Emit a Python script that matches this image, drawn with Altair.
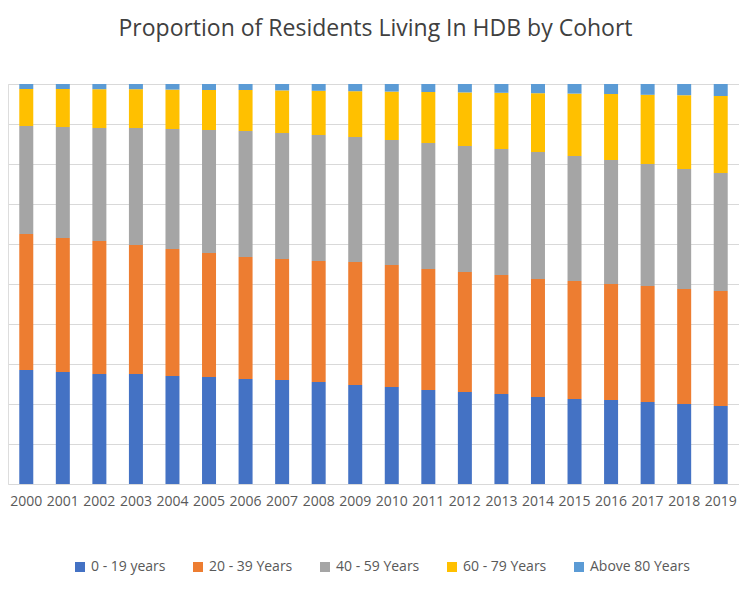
import altair as alt
import pandas as pd

years = [str(y) for y in range(2000, 2020)]
cohorts = ["0 - 19 years", "20 - 39 Years", "40 - 59 Years", "60 - 79 Years", "Above 80 Years"]
colors = ["#4472C4", "#ED7D31", "#A5A5A5", "#FFC000", "#5B9BD5"]
# cumulative tops (%)
c1 = [28.5, 28, 27.5, 27.5, 27, 26.75, 26.25, 26, 25.5, 24.75, 24.25, 23.5, 23, 22.5, 21.75, 21.25, 21, 20.5, 20, 19.5]
c2 = [62.5, 61.5, 60.75, 59.75, 58.75, 57.75, 56.75, 56.25, 55.75, 55.5, 54.75, 53.75, 53, 52.25, 51.25, 50.75, 50, 49.5, 48.75, 48.25]
c3 = [89.5, 89.25, 89, 89, 88.75, 88.5, 88.25, 87.75, 87.25, 86.75, 86, 85.25, 84.5, 83.75, 83, 82, 81, 80, 78.75, 77.75]
c4 = [98.75, 98.75, 98.7, 98.7, 98.6, 98.5, 98.5, 98.4, 98.3, 98.2, 98.1, 98, 97.9, 97.8, 97.7, 97.6, 97.5, 97.3, 97.2, 97.0]

rows = []
for i, y in enumerate(years):
    tops = [c1[i], c2[i], c3[i], c4[i], 100]
    prev = 0
    for k, c in enumerate(cohorts):
        rows.append({"Year": y, "Cohort": c, "Value": tops[k] - prev, "ord": k})
        prev = tops[k]
df = pd.DataFrame(rows)

chart = alt.Chart(df).mark_bar(size=14).encode(
    x=alt.X("Year:N", title=None, scale=alt.Scale(paddingInner=0.62, paddingOuter=0.31),
            axis=alt.Axis(labelAngle=0, labelFontSize=14, labelColor="#595959", domain=False, ticks=False, labelPadding=10)),
    y=alt.Y("sum(Value):Q", title=None, stack="zero", scale=alt.Scale(domain=[0, 100], nice=False),
            axis=alt.Axis(labels=False, ticks=False, domain=False, tickCount=10, gridColor="#D9D9D9")),
    color=alt.Color("Cohort:N", scale=alt.Scale(domain=cohorts, range=colors),
                    legend=alt.Legend(orient="none", legendX=65, legendY=476, direction="horizontal", title=None,
                                      symbolType="square", labelFontSize=14, labelColor="#595959",
                                      symbolSize=100, columnPadding=25)),
    order=alt.Order("ord:Q", sort="ascending"),
).properties(
    width=731, height=400,
    title=alt.TitleParams("Proportion of Residents Living In HDB by Cohort", fontSize=23, fontWeight="normal",
                          color="#404040", offset=43, anchor="middle", dx=2),
).configure_view(stroke=None).configure(font="Open Sans", padding={"left": 0, "top": 10, "right": 0, "bottom": 5})

chart.save("out.html", embed_options={"renderer": "svg", "actions": False})
